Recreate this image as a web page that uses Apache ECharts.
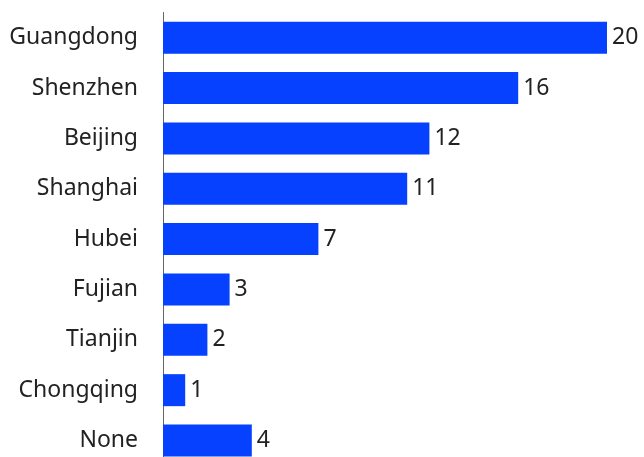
<!DOCTYPE html>
<html>
<head>
<meta charset="utf-8">
<script src="https://cdn.jsdelivr.net/npm/echarts@6/dist/echarts.min.js"></script>
<style>
  html, body { margin: 0; padding: 0; background: #fff; }
  #chart { width: 644px; height: 457px; }
</style>
</head>
<body>
<div id="chart"></div>
<script>
// Provinces / cities, listed top to bottom
const categories = ['Guangdong', 'Shenzhen', 'Beijing', 'Shanghai', 'Hubei', 'Fujian', 'Tianjin', 'Chongqing', 'None'];
const values = [20, 16, 12, 11, 7, 3, 2, 1, 4];

const chart = echarts.init(document.getElementById('chart'));
chart.setOption({
  animation: false,
  // the last row runs past the bottom edge of the canvas
  grid: { left: 163, width: 444, top: 12.5, height: 453.2, containLabel: false, outerBoundsMode: 'none' },
  xAxis: {
    type: 'value', min: 0, max: 20,
    show: false
  },
  yAxis: {
    type: 'category',
    data: categories,
    inverse: true,
    axisLine: { show: true, lineStyle: { color: '#666', width: 1 } },
    axisTick: { show: false },
    axisLabel: {
      margin: 25,
      color: '#222',
      fontFamily: 'Noto Sans',
      fontSize: 23
    }
  },
  series: [{
    type: 'bar',
    data: values,
    barWidth: 32,
    itemStyle: { color: '#0541ff' },
    label: {
      show: true,
      position: 'right',
      distance: 5,
      color: '#222',
      fontFamily: 'Noto Sans',
      fontSize: 23
    }
  }]
});
</script>
</body>
</html>
